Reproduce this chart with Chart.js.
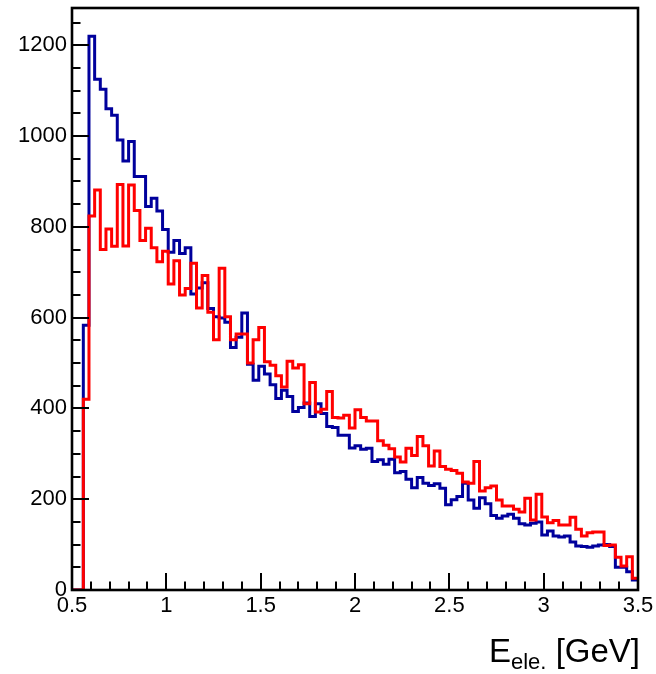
<!DOCTYPE html>
<html>
<head>
<meta charset="utf-8">
<script src="https://cdn.jsdelivr.net/npm/chart.js@4.4.0/dist/chart.umd.min.js"></script>
<style>
    html, body { margin: 0; padding: 0; background: #fff; }
    #wrap { width: 656px; height: 674px; position: relative; }
</style>
</head>
<body>
<div id="wrap"><canvas id="histChart"></canvas></div>
<script>
// Binning of the histograms
const binLow = 0.5;
const binWidth = 0.03;

// Entries per bin (blue and red histograms)
const blueCounts = [
    0, 0, 583, 1220, 1125, 1103, 1060, 1046, 991, 945,
    988, 911, 911, 845, 863, 835, 794, 744, 770, 741,
    754, 652, 665, 677, 620, 602, 599, 590, 534, 557,
    610, 497, 462, 493, 476, 452, 422, 440, 426, 393,
    402, 412, 382, 410, 389, 360, 358, 341, 341, 313,
    318, 310, 312, 283, 287, 277, 288, 258, 261, 244,
    225, 248, 235, 230, 234, 224, 188, 199, 206, 235,
    198, 180, 203, 190, 164, 158, 163, 167, 158, 146,
    143, 147, 150, 121, 130, 119, 117, 119, 106, 97,
    96, 94, 97, 99, 100, 96, 50, 50, 40, 22
];
const redCounts = [
    0, 0, 420, 824, 881, 750, 795, 757, 893, 758,
    892, 836, 770, 797, 754, 723, 746, 674, 725, 650,
    664, 720, 621, 693, 612, 551, 709, 602, 551, 564,
    564, 500, 551, 578, 503, 495, 472, 447, 504, 489,
    496, 410, 457, 392, 398, 437, 380, 379, 385, 357,
    397, 380, 372, 372, 329, 319, 311, 293, 282, 312,
    296, 338, 318, 273, 306, 272, 266, 263, 257, 238,
    235, 283, 218, 225, 229, 198, 185, 185, 178, 172,
    202, 154, 211, 161, 148, 153, 143, 143, 160, 134,
    119, 126, 128, 128, 98, 99, 72, 53, 73, 26
];

// Axes
const xMin = 0.5, xMax = 3.5;
const yMin = 0, yMax = 1282;
const xMajorTicks = [0.5, 1, 1.5, 2, 2.5, 3, 3.5];
const yMajorTicks = [0, 200, 400, 600, 800, 1000, 1200];
const xMinorStep = 0.1;
const yMinorStep = 50;

const FONT = '"Liberation Sans", Arial, Helvetica, sans-serif';

// Histogram outline: one point per bin low edge, plus the last upper edge
function histPoints(counts) {
    const pts = counts.map((c, i) => ({ x: Math.round((binLow + i * binWidth) * 1000) / 1000, y: c }));
    pts.push({ x: Math.round((binLow + counts.length * binWidth) * 1000) / 1000, y: counts[counts.length - 1] });
    return pts;
}

// Cadre + graduations à l'intérieur, style ROOT
const rootFrame = {
    id: 'rootFrame',
    afterDraw(chart) {
        const ctx = chart.ctx;
        const area = chart.chartArea;
        const xs = chart.scales.x;
        const ys = chart.scales.y;

        ctx.save();
        ctx.strokeStyle = '#000';
        ctx.lineCap = 'butt';

        // graduations
        ctx.lineWidth = 2;
        ctx.beginPath();
        for (let v = yMin; v <= yMax + 1e-6; v += yMinorStep) {
            const py = Math.round(ys.getPixelForValue(v));
            const len = yMajorTicks.includes(v) ? 17 : 8.5;
            ctx.moveTo(area.left, py);
            ctx.lineTo(area.left + len, py);
        }
        for (let i = 0; i <= Math.round((xMax - xMin) / xMinorStep); i++) {
            const v = Math.round((xMin + i * xMinorStep) * 10) / 10;
            const px = Math.round(xs.getPixelForValue(v));
            const len = xMajorTicks.includes(v) ? 17 : 8.5;
            ctx.moveTo(px, area.bottom);
            ctx.lineTo(px, area.bottom - len);
        }
        ctx.stroke();

        // cadre
        ctx.lineWidth = 2.6;
        ctx.strokeRect(area.left, area.top, area.right - area.left, area.bottom - area.top);

        // titre de l'axe x : E_{ele.} [GeV], aligné à droite
        const mainFont = '33px ' + FONT;
        const subFont = '22px ' + FONT;
        ctx.fillStyle = '#000';
        ctx.textBaseline = 'alphabetic';
        ctx.textAlign = 'left';
        ctx.font = mainFont;
        const wE = ctx.measureText('E').width;
        const wRest = ctx.measureText(' [GeV]').width;
        ctx.font = subFont;
        const wSub = ctx.measureText('ele.').width;
        const x0 = area.right + 2 - (wE + wSub + wRest);
        const base = 662;
        ctx.font = mainFont;
        ctx.fillText('E', x0, base);
        ctx.font = subFont;
        ctx.fillText('ele.', x0 + wE, base + 7);
        ctx.font = mainFont;
        ctx.fillText(' [GeV]', x0 + wE + wSub, base);

        ctx.restore();
    }
};

new Chart(document.getElementById('histChart'), {
    type: 'line',
    data: {
        datasets: [{
            label: 'red',
            data: histPoints(redCounts),
            borderColor: '#ff0000',
            borderWidth: 3,
            stepped: true,
            pointRadius: 0,
            fill: false
        }, {
            label: 'blue',
            data: histPoints(blueCounts),
            borderColor: '#00009c',
            borderWidth: 3,
            stepped: true,
            pointRadius: 0,
            fill: false
        }]
    },
    options: {
        responsive: true,
        maintainAspectRatio: false,
        animation: false,
        devicePixelRatio: 1,
        layout: {
            padding: { top: 8, right: 18, left: 0, bottom: 0 }
        },
        plugins: {
            legend: { display: false },
            tooltip: { enabled: false }
        },
        scales: {
            x: {
                type: 'linear',
                min: xMin,
                max: xMax,
                grid: { display: false, drawTicks: false },
                border: { display: false },
                ticks: {
                    stepSize: 0.5,
                    autoSkip: false,
                    maxRotation: 0,
                    padding: 3,
                    color: '#000',
                    font: { family: FONT, size: 22 },
                    callback: (v) => String(v)
                },
                afterFit: (scale) => {
                    scale.height = 84;
                    scale.paddingLeft = 0;
                    scale.paddingRight = 0;
                }
            },
            y: {
                min: yMin,
                max: yMax,
                grid: { display: false, drawTicks: false },
                border: { display: false },
                ticks: {
                    stepSize: 200,
                    includeBounds: false,
                    padding: 5,
                    color: '#000',
                    font: { family: FONT, size: 22 },
                    callback: (v) => String(v)
                },
                afterFit: (scale) => {
                    scale.width = 72;
                    scale.paddingTop = 0;
                    scale.paddingBottom = 0;
                }
            }
        }
    },
    plugins: [rootFrame]
});
</script>
</body>
</html>
